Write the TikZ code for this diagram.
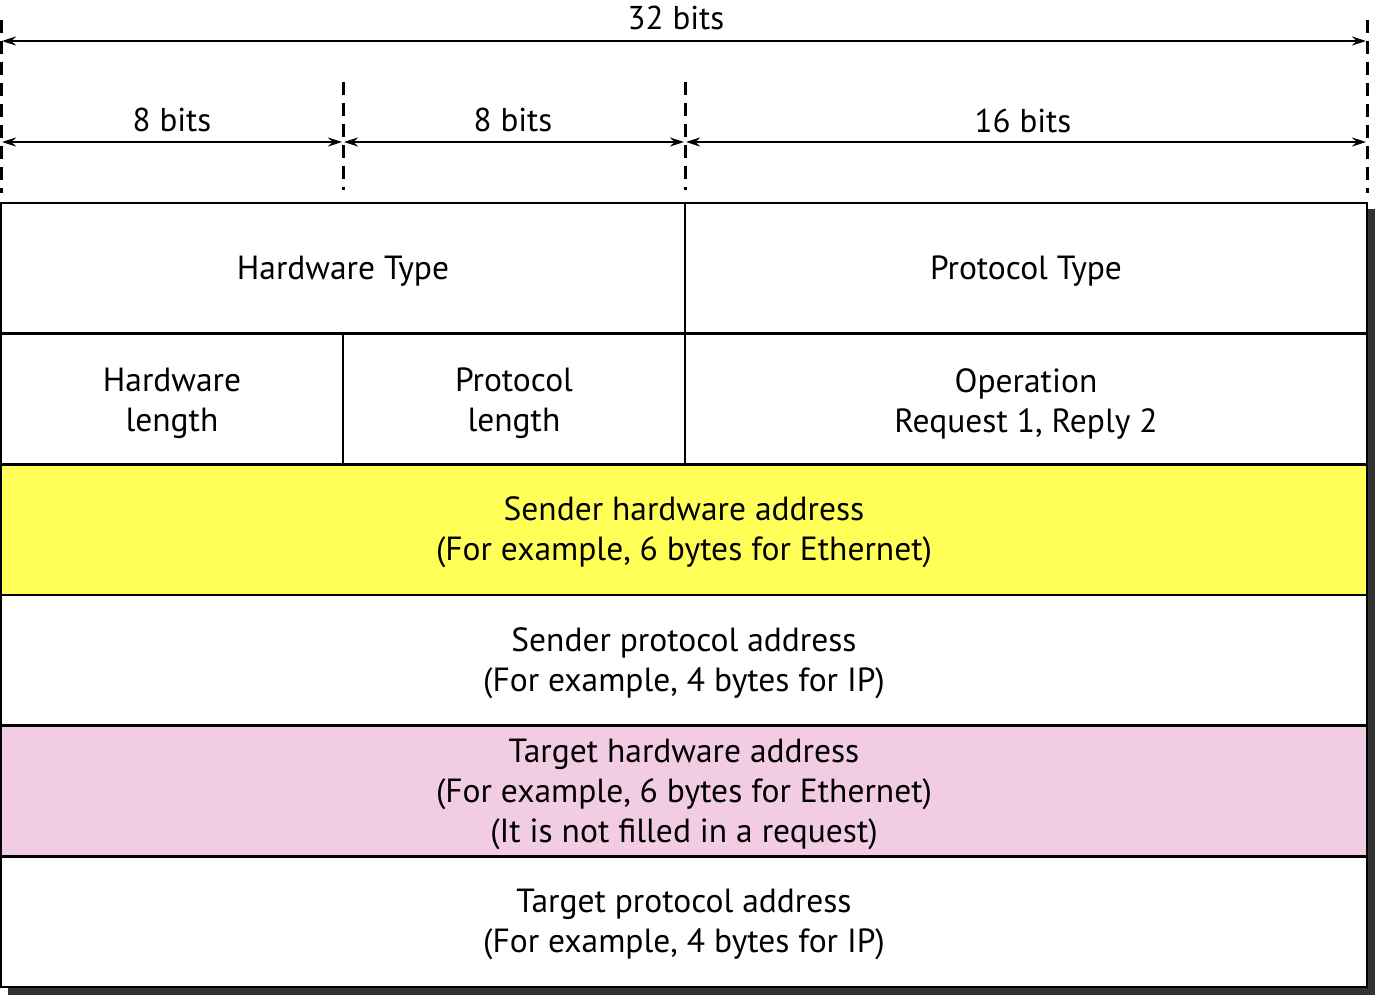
\documentclass[tikz,border=0pt]{standalone}
\usepackage{fontspec}
\setmainfont{PT Sans}
\usetikzlibrary{arrows.meta}
\definecolor{shadowgray}{HTML}{333333}
\definecolor{senderyellow}{HTML}{FFFF58}
\definecolor{targetpink}{HTML}{F2CCE3}
\tikzset{
  cell/.style={draw=black, fill=white, line width=2.5pt, rectangle, anchor=north west,
    inner sep=0pt, outer sep=0pt, minimum height=130.7pt},
  celltext/.style={align=center, inner sep=0pt, font=\fontsize{33.5}{40}\selectfont, yshift=-3pt},
  guide/.style={line width=3pt, dash pattern=on 13pt off 8pt},
  span/.style={line width=1.6pt, {Stealth[length=14pt,width=9pt]}-{Stealth[length=14pt,width=9pt]}},
  spanlabel/.style={font=\fontsize{33}{36}\selectfont, inner sep=0pt}
}
\begin{document}
\begin{tikzpicture}[x=1pt,y=-1pt]
\useasboundingbox (0,0) rectangle (1376,996);
% drop shadow of the packet frame
\fill[shadowgray] (8,209) rectangle (1375,995);

% packet cells (column edges 1, 343, 685, 1367; row edges every 130.67)
\node[cell, minimum width=684pt, label={[celltext]center:Hardware Type}] (hwtype) at (1,203) {};
\node[cell, minimum width=682pt, label={[celltext]center:Protocol Type}] (prtype) at (685,203) {};
\node[cell, minimum width=342pt, label={[celltext, yshift=-1.5pt]center:Hardware\\length}] (hwlen) at (1,333.7) {};
\node[cell, minimum width=342pt, label={[celltext, yshift=-1.5pt]center:Protocol\\length}] (prlen) at (343,333.7) {};
\node[cell, minimum width=682pt, label={[celltext, yshift=-1.5pt]center:Operation\\Request 1, Reply 2}] (oper) at (685,333.7) {};
\node[cell, fill=senderyellow, minimum width=1366pt, label={[celltext]center:Sender hardware address\\(For example, 6 bytes for Ethernet)}] (sha) at (1,464.3) {};
\node[cell, minimum width=1366pt, label={[celltext]center:Sender protocol address\\(For example, 4 bytes for IP)}] (spa) at (1,595) {};
\node[cell, fill=targetpink, minimum width=1366pt, label={[celltext]center:Target hardware address\\(For example, 6 bytes for Ethernet)\\(It is not filled in a request)}] (tha) at (1,725.7) {};
\node[cell, minimum width=1366pt, label={[celltext]center:Target protocol address\\(For example, 4 bytes for IP)}] (tpa) at (1,856.3) {};

% dashed field boundaries above the frame
\coordinate (g0t) at (1,20);    \coordinate (g0b) at (1,193);
\coordinate (g1t) at (343,82);  \coordinate (g1b) at (343,190);
\coordinate (g2t) at (685,82);  \coordinate (g2b) at (685,190);
\coordinate (g3t) at (1367,20); \coordinate (g3b) at (1367,193);
\draw[guide] (g0t) -- (g0b);
\draw[guide] (g1t) -- (g1b);
\draw[guide] (g2t) -- (g2b);
\draw[guide] (g3t) -- (g3b);

% bit-width dimension arrows
\coordinate (a0) at (2,41);    \coordinate (a3) at (1366,41);
\coordinate (b0) at (2,142);   \coordinate (b1) at (342,142);
\coordinate (c1) at (344,142); \coordinate (c2) at (684,142);
\coordinate (d2) at (686,142); \coordinate (d3) at (1366,142);
\draw[span] (a0) -- (a3);
\draw[span] (b0) -- (b1);
\draw[span] (c1) -- (c2);
\draw[span] (d2) -- (d3);
\node[spanlabel] (l32) at (676,18) {32 bits};
\node[spanlabel] (l8a) at (172,120) {8 bits};
\node[spanlabel] (l8b) at (513,120) {8 bits};
\node[spanlabel] (l16) at (1023,121) {16 bits};
\end{tikzpicture}
\end{document}
